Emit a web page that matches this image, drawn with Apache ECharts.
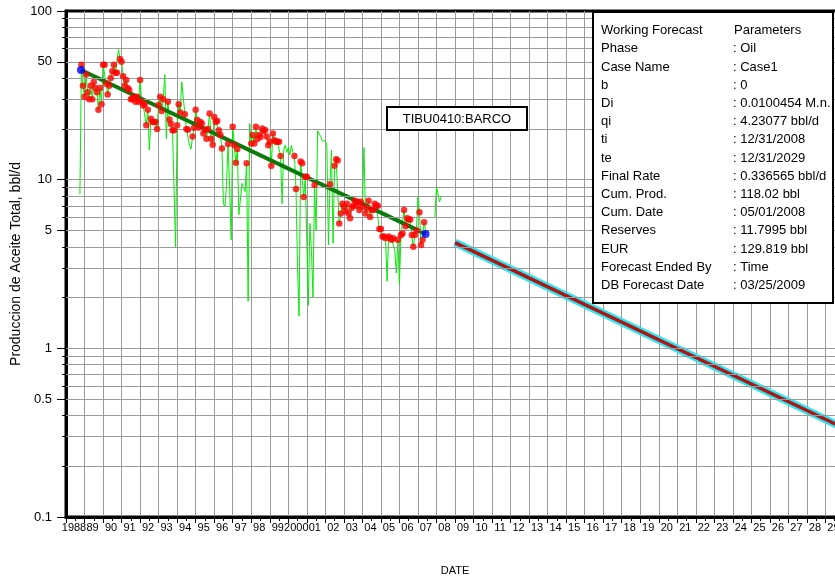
<!DOCTYPE html>
<html>
<head>
<meta charset="utf-8">
<script src="https://cdn.jsdelivr.net/npm/echarts@6/dist/echarts.min.js"></script>
<style>
  html, body { margin: 0; padding: 0; background: #fff; }
  #chart { width: 835px; height: 579px; }
</style>
</head>
<body>
<div id="chart"></div>
<script>
// ---- Well and production history -------------------------------------
const wellName = 'TIBU0410:BARCO';
const firstYear = 1988;
const firstMonth = 10;          // first producing month (October 1988)

// Monthly oil rate, bbl/d (null = no report)
const monthlyOilRate = [
  /* 1988 */ 8.2, 48, 36,
  /* 1989 */ 31, 42, 33, 30, 36, 30, 38, 35, 33, 26, 35, 28,
  /* 1990 */ 48, 48, 37, 32, 36, 40, 44, 48, 43, 43, 59, 52,
  /* 1991 */ 50, 41, 36, 39, 35, 34, 30, 30, 31, 29, 31, 29,
  /* 1992 */ 39, 29, 27.5, 28, 21, 26, 15, 23, 22, 22, 22, 20,
  /* 1993 */ 27.7, 31, 25.5, 30, 42, 17.5, 29, 22.7, 21.4, 19.6, 19.6, 4.0,
  /* 1994 */ 21, 28, 25, 38, 37, 24.4, 20, 19.8, 16, 15.2, 18, 20.3,
  /* 1995 */ 26, 22.6, 20.4, 22, 21.5, 18.8, 19.8, 17.5, 20, 24.7, 17.5, 16.1,
  /* 1996 */ 23.5, 22, 22.3, 19.6, 18.4, 15.3, 7.2, 6.9, 9.4, 16.3, 9.0, 4.4,
  /* 1997 */ 20.6, 16, 12.6, 15.2, 6.2, 6.1, 9.5, 9.0, 8.5, 12.5, 1.9, 21.5,
  /* 1998 */ 16.4, 18.4, 16.4, 20.6, 17.4, 18.4, 17.9, 20.1, 19.4, 19.7, 18, 16,
  /* 1999 */ 16.8, 12.1, 18.8, 17.1, 16.8, 16.8, 16.8, 13.8, 7.2, 15, 16, 14.5,
  /* 2000 */ 15.5, 14, 16, 14.5, 13.8, 8.8, 3.0, 1.55, 12.8, 12.5, 7.9, 10.4,
  /* 2001 */ 10.4, 1.8, 5.5, 3.8, 2.0, 9.3, 5.0, 19.5, 19.0, 18, 17, 17,
  /* 2002 */ 17, 16, 4.1, 9.4, 15, 4.2, 12.1, 13.2, 13.0, 5.5, 6.3, 7.2,
  /* 2003 */ 6.9, 6.5, 7.2, 6.3, 5.9, 6.8, 7.0, 7.5, 7.0, 7.4, 6.6, 7.4,
  /* 2004 */ 6.9, 15.5, 6.3, 6.8, 7.5, 6.0, 6.6, 6.6, 7.2, 7.0, 7.0, 5.1,
  /* 2005 */ 5.1, 4.6, 4.6, 4.5, 2.5, 4.6, 4.5, 4.4, 4.5, 3.8, 2.8, 4.4,
  /* 2006 */ 2.4, 4.7, 4.8, 6.6, 5.3, 5.9, 5.8, 5.8, 4.7, 4.0, 4.7, 5.0,
  /* 2007 */ 8.0, 6.4, 4.1, 4.4, 5.6, 5.0, 4.9, 4.9, null, null, null, 6.0,
  /* 2008 */ 9.1, 8.2, 7.4, 7.9
];

// Months left out of the decline fit
const excludedMonths = [
  '1988-10', '1990-11', '1992-07', '1993-05', '1993-06', '1993-12',
  '1994-04', '1994-05', '1994-09', '1994-10', '1996-07', '1996-08',
  '1996-09', '1996-11', '1996-12', '1997-05', '1997-06', '1997-07',
  '1997-08', '1997-09', '1997-11', '1997-12', '1999-09', '1999-10',
  '1999-11', '1999-12', '2000-01', '2000-02', '2000-03', '2000-04',
  '2000-07', '2000-08', '2001-02', '2001-03', '2001-04', '2001-05',
  '2001-07', '2001-08', '2001-09', '2001-10', '2001-11', '2001-12',
  '2002-01', '2002-02', '2002-03', '2002-05', '2002-06', '2004-02',
  '2005-05', '2005-10', '2005-11', '2006-01', '2007-01'
];
const fitEndMonth = '2007-05';

// Exponential fit through the history (end points)
const fitYears = [1988.81, 2007.41];
const fitRates = [44.7, 4.77];

// ---- Working forecast parameters ---------------------------------------
const qi = 4.23077;
const finalRate = 0.336565;
const forecastStart = '12/31/2008';
const forecastEnd = '12/31/2029';

const paramNames = [
  'Working Forecast', 'Phase', 'Case Name', 'b', 'Di', 'qi', 'ti', 'te',
  'Final Rate', 'Cum. Prod.', 'Cum. Date', 'Reserves', 'EUR',
  'Forecast Ended By', 'DB Forecast Date'
];
const paramValues = [
  'Parameters', ': Oil', ': Case1', ': 0', ': 0.0100454 M.n.',
  ': ' + qi + ' bbl/d', ': ' + forecastStart, ': ' + forecastEnd,
  ': ' + finalRate + ' bbl/d', ': 118.02 bbl', ': 05/01/2008',
  ': 11.7995 bbl', ': 129.819 bbl', ': Time', ': 03/25/2009'
];

// ---- Axes --------------------------------------------------------------
const yearMin = 1988, yearMax = 2030;
const yLabelValues = [0.1, 0.5, 1, 5, 10, 50, 100];
const yDecades = [0.1, 1, 10];

// ---- Helpers -----------------------------------------------------------
const FONT = '"Liberation Sans", Arial, Helvetica, sans-serif';

function monthIndexToYear(i) {
  return firstYear + (firstMonth - 1 + i) / 12;
}
function monthKey(i) {
  const m = firstMonth - 1 + i;
  const y = firstYear + Math.floor(m / 12);
  return y + '-' + String((m % 12) + 1).padStart(2, '0');
}
function dateToYear(s) {
  const [mm, dd, yyyy] = s.split('/').map(Number);
  const start = Date.UTC(yyyy, 0, 1), end = Date.UTC(yyyy + 1, 0, 1);
  return yyyy + (Date.UTC(yyyy, mm - 1, dd) - start) / (end - start);
}
function yearLabel(v) {
  return (v === yearMin || v % 100 === 0) ? String(v) : String(v % 100).padStart(2, '0');
}

const historyLine = monthlyOilRate.map((v, i) => [monthIndexToYear(i), v == null ? '-' : v]);
const fitPoints = [];
monthlyOilRate.forEach((v, i) => {
  const key = monthKey(i);
  if (v != null && key <= fitEndMonth && excludedMonths.indexOf(key) < 0) {
    fitPoints.push([monthIndexToYear(i), v]);
  }
});
const fitLine = fitYears.map((x, i) => [x, fitRates[i]]);
const forecastLine = [[dateToYear(forecastStart), qi], [dateToYear(forecastEnd), finalRate]];

// Horizontal grid (1..9 in every decade) and the rate ticks on the left
const yGridValues = [];
yDecades.forEach(d => { for (let k = 1; k <= 9; k++) yGridValues.push(+(d * k).toPrecision(3)); });
yGridValues.push(100);

const gridLines = [];
yGridValues.forEach(v => {
  const labelled = yLabelValues.indexOf(v) >= 0;
  if (v > yGridValues[0] && v < 100) {
    gridLines.push([
      { xAxis: yearMin, yAxis: v, lineStyle: { color: '#9a9a9a', width: 1, type: 'solid' }, label: { show: false } },
      { xAxis: yearMax, yAxis: v }
    ]);
  }
  gridLines.push([
    {
      x: labelled ? 57 : 62, yAxis: v,
      lineStyle: { color: '#000', width: 1, type: 'solid' },
      label: labelled
        ? { show: true, position: 'start', distance: 5, formatter: String(v), fontSize: 13, fontFamily: FONT, color: '#000' }
        : { show: false }
    },
    { xAxis: yearMin, yAxis: v }
  ]);
});

// ---- Parameter table and well label --------------------------------------
const graphics = [
  { type: 'rect', z: 100, shape: { x: 593, y: 12, width: 240, height: 291 },
    style: { fill: '#fff', stroke: '#000', lineWidth: 2 } },
  { type: 'rect', z: 100, shape: { x: 387, y: 107, width: 140, height: 23 },
    style: { fill: '#fff', stroke: '#000', lineWidth: 2 } },
  { type: 'text', z: 101, x: 457, y: 119,
    style: { text: wellName, font: '13px ' + FONT, fill: '#000', align: 'center', verticalAlign: 'middle' } }
];
paramNames.forEach((name, i) => {
  const y = 30.7 + i * 18.2;
  graphics.push({ type: 'text', z: 101, x: 601, y: y,
    style: { text: name, font: '13px ' + FONT, fill: '#000', verticalAlign: 'middle' } });
  graphics.push({ type: 'text', z: 101, x: i === 0 ? 734 : 733, y: y,
    style: { text: paramValues[i], font: '13px ' + FONT, fill: '#000', verticalAlign: 'middle' } });
});

// ---- Chart ----------------------------------------------------------------
const chart = echarts.init(document.getElementById('chart'), null, { renderer: 'canvas' });
chart.setOption({
  animation: false,
  backgroundColor: '#fff',
  textStyle: { fontFamily: FONT },
  grid: {
    left: 66, right: -9, top: 11, bottom: 62,
    containLabel: false,
    outerBoundsMode: 'none',
    show: true, borderColor: '#000', borderWidth: 3, backgroundColor: 'transparent'
  },
  xAxis: {
    type: 'value', min: yearMin, max: yearMax, interval: 1,
    name: 'DATE', nameLocation: 'middle', nameGap: 48,
    nameTextStyle: { fontSize: 11, color: '#000', fontFamily: FONT },
    axisLine: { show: true, lineStyle: { color: '#000', width: 3 } },
    axisTick: { show: true, length: 6, lineStyle: { color: '#000', width: 1 } },
    minorTick: { show: true, splitNumber: 2, length: 4, lineStyle: { color: '#000', width: 1 } },
    axisLabel: {
      formatter: yearLabel, fontSize: 11, color: '#000', fontFamily: FONT,
      margin: 5, align: 'center', padding: [0, 0, 0, 16],
      showMinLabel: true, showMaxLabel: true
    },
    splitLine: { show: true, lineStyle: { color: '#9a9a9a', width: 1 } }
  },
  yAxis: {
    type: 'log', logBase: 10, min: 0.1, max: 100,
    name: 'Produccion de Aceite Total, bbl/d', nameLocation: 'middle', nameGap: 43,
    nameTextStyle: { fontSize: 14, color: '#000', fontFamily: FONT },
    axisLine: { show: true, lineStyle: { color: '#000', width: 3 } },
    axisTick: { show: false },
    axisLabel: { show: false },
    splitLine: { show: false }
  },
  graphic: graphics,
  series: [
    {
      name: 'grid', type: 'line', data: [], z: 1, silent: true, clip: false,
      markLine: {
        silent: true, symbol: ['none', 'none'], animation: false,
        emphasis: { disabled: true },
        data: gridLines
      }
    },
    {
      name: 'Oil rate', type: 'line', data: historyLine, z: 2,
      showSymbol: false, symbol: 'none', connectNulls: false,
      lineStyle: { color: '#00ee00', width: 1 }
    },
    {
      name: 'Forecast outline', type: 'line', data: forecastLine, z: 3,
      showSymbol: false, symbol: 'none',
      lineStyle: { color: '#2ee6f0', width: 8, cap: 'butt' }
    },
    {
      name: 'Forecast', type: 'line', data: forecastLine, z: 4,
      showSymbol: false, symbol: 'none',
      lineStyle: { color: '#b01515', width: 3.5, cap: 'butt' }
    },
    {
      name: 'Fit', type: 'line', data: fitLine, z: 4,
      showSymbol: false, symbol: 'none',
      lineStyle: { color: '#0a7a0a', width: 4 }
    },
    {
      name: 'Fit points', type: 'scatter', data: fitPoints, z: 5,
      symbol: 'circle', symbolSize: 6.5,
      itemStyle: { color: '#ff0000' }
    },
    {
      name: 'Fit ends', type: 'scatter', data: fitLine, z: 6,
      symbol: 'circle', symbolSize: 8,
      itemStyle: { color: '#0000ff' }
    }
  ]
});
</script>
</body>
</html>
